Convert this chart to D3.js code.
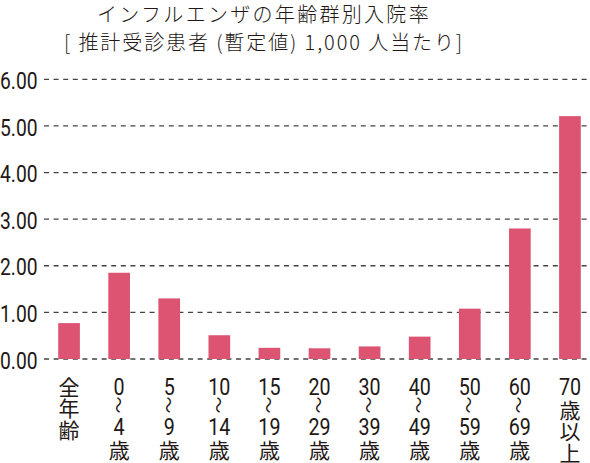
<!DOCTYPE html>
<html>
<head>
<meta charset="utf-8">
<script src="https://cdn.jsdelivr.net/npm/d3@7"></script>
<style>
  body { margin: 0; background: #fff; }
  svg { display: block; }
</style>
</head>
<body>
<script>
// data
const categories = ["全年齢", "0〜4歳", "5〜9歳", "10〜14歳", "15〜19歳", "20〜29歳",
  "30〜39歳", "40〜49歳", "50〜59歳", "60〜69歳", "70歳以上"];
const labelLines = [
  ["全", "年", "齢"],
  ["0", "〜", "4", "歳"],
  ["5", "〜", "9", "歳"],
  ["10", "〜", "14", "歳"],
  ["15", "〜", "19", "歳"],
  ["20", "〜", "29", "歳"],
  ["30", "〜", "39", "歳"],
  ["40", "〜", "49", "歳"],
  ["50", "〜", "59", "歳"],
  ["60", "〜", "69", "歳"],
  ["70", "歳", "以", "上"],
];
const values = [0.77, 1.85, 1.30, 0.51, 0.24, 0.23, 0.27, 0.48, 1.08, 2.80, 5.21];
const yTicks = [0, 1, 2, 3, 4, 5, 6];
const titleLines = ["インフルエンザの年齢群別入院率", "[ 推計受診患者 (暫定値) 1,000 人当たり]"];

const width = 590;
const height = 463;
const barColor = "#dd5472";
const textColor = "#231815";
const numFont = "Roboto, 'Liberation Sans', sans-serif";
const cjkFont = "'Noto Sans CJK JP', sans-serif";
const squeeze = 0.82; // digits in the original are condensed

const isDigit = (s) => /[0-9]/.test(s);

const svg = d3.select("body")
  .append("svg")
  .attr("width", width)
  .attr("height", height);

// title
svg.append("g")
  .selectAll("text")
  .data(titleLines)
  .join("text")
  .attr("x", 264)
  .attr("y", (d, i) => 13 + i * 28.5)
  .attr("text-anchor", "middle")
  .attr("dominant-baseline", "central")
  .attr("fill", textColor)
  .style("font-family", cjkFont)
  .style("font-weight", 300)
  .style("font-size", "20px")
  .style("letter-spacing", (d, i) => i === 0 ? "2.3px" : "1.9px")
  .text((d) => d);

const x = d3.scaleBand()
  .domain(categories)
  .range([44, 595])
  .paddingInner(0.567)
  .paddingOuter(0.2835);

const y = d3.scaleLinear()
  .domain([0, 6])
  .range([359, 79.3]);

// gridlines
svg.append("g")
  .selectAll("line")
  .data(yTicks)
  .join("line")
  .attr("x1", 44)
  .attr("x2", width)
  .attr("y1", (d) => y(d))
  .attr("y2", (d) => y(d))
  .attr("stroke", "#444")
  .attr("stroke-width", 1.3)
  .attr("stroke-dasharray", "5 4.6");

// y labels
svg.append("g")
  .selectAll("text")
  .data(yTicks)
  .join("text")
  .attr("transform", (d) => `translate(0,${y(d) + 1.5}) scale(${squeeze},1)`)
  .attr("dominant-baseline", "central")
  .attr("fill", textColor)
  .style("font-family", numFont)
  .style("font-size", "23.5px")
  .text((d) => d3.format(".2f")(d));

// bars
svg.append("g")
  .selectAll("rect")
  .data(values)
  .join("rect")
  .attr("x", (d, i) => x(categories[i]))
  .attr("y", (d) => y(d))
  .attr("width", x.bandwidth())
  .attr("height", (d) => y(0) - y(d))
  .attr("fill", barColor);

// x labels, stacked vertically one piece per line
function linePositions(lines) {
  const pos = [];
  let cy = 386.5;
  lines.forEach((l, i) => {
    pos.push(cy);
    const next = lines[i + 1];
    if (next === "〜") cy += 18.5;
    else if (l === "〜") cy += 21.7;
    else if (isDigit(l)) cy += 23;
    else cy += 21.8;
  });
  return pos;
}

const labels = svg.append("g")
  .selectAll("g")
  .data(labelLines)
  .join("g")
  .attr("transform", (d, i) => `translate(${x(categories[i]) + x.bandwidth() / 2},0)`);

labels.each(function (lines) {
  const pos = linePositions(lines);
  d3.select(this)
    .selectAll("text")
    .data(lines)
    .join("text")
    .attr("text-anchor", "middle")
    .attr("dominant-baseline", "central")
    .attr("fill", textColor)
    .attr("transform", (d, i) => {
      if (d === "〜") return `translate(0,${pos[i]}) rotate(90)`;
      if (isDigit(d)) return `translate(0,${pos[i]}) scale(${squeeze},1)`;
      return `translate(0,${pos[i] - 1})`;
    })
    .style("font-family", (d) => isDigit(d) ? numFont : cjkFont)
    .style("font-size", (d) => d === "〜" ? "17px" : isDigit(d) ? "24px" : "21px")
    .text((d) => d);
});
</script>
</body>
</html>
